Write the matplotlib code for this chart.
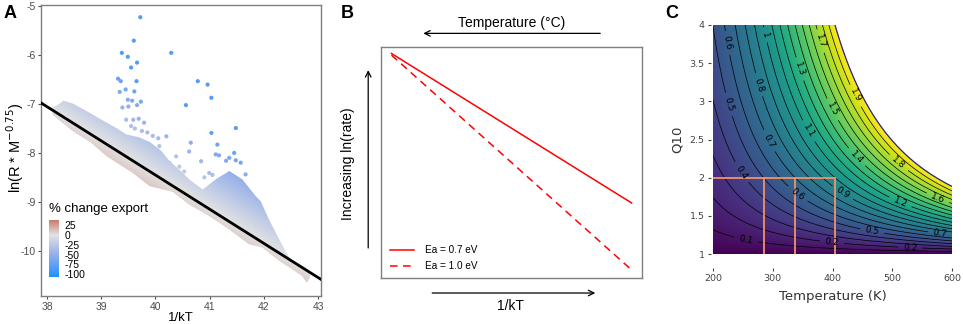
import numpy as np
import matplotlib
matplotlib.use('Agg')
import matplotlib.pyplot as plt
from matplotlib.colors import LinearSegmentedColormap, Normalize
from matplotlib.patches import Polygon

plt.rcParams['axes.unicode_minus'] = False

# ---------- Panel A: values ----------
fit_x = [37.89, 43.05]
fit_y = [-6.975, -10.59]

cloud_top_x = [38.10, 38.21, 38.30, 38.48, 38.79, 39.10, 39.28, 39.46, 39.70, 39.90, 40.10, 40.26,
               40.45, 40.62, 40.87, 41.11, 41.36, 41.60, 41.85, 41.94, 42.09, 42.28, 42.43, 42.49,
               42.60, 42.85]
cloud_top_y = [-7.06, -7.01, -6.93, -6.99, -7.18, -7.38, -7.49, -7.62, -7.68, -7.78, -7.95, -8.17,
               -8.35, -8.54, -8.75, -8.54, -8.37, -8.54, -8.89, -8.99, -9.36, -9.77, -10.08, -10.18,
               -10.25, -10.42]
cloud_bot_x = [38.10, 38.48, 38.80, 39.10, 39.58, 39.89, 40.32, 40.62, 41.00, 41.36, 41.72, 41.97,
               42.28, 42.70, 42.79, 42.85]
cloud_bot_y = [-7.22, -7.56, -7.78, -8.07, -8.41, -8.68, -8.80, -9.06, -9.30, -9.57, -9.87, -9.94,
               -10.21, -10.52, -10.66, -10.55]

pts_x = [39.72, 39.60, 39.38, 39.49, 39.66, 39.55, 40.29, 39.31, 39.36, 39.65, 40.78, 40.96, 41.03,
         40.56, 39.45, 39.34, 39.61, 39.49, 39.57, 39.73, 39.39, 39.50, 39.66, 39.46, 39.59, 39.69,
         39.79, 39.55, 39.62, 39.75, 39.85, 39.95, 40.05, 40.20, 40.07, 40.38, 40.26, 40.44, 40.53,
         40.65, 40.62, 40.84, 41.03, 41.14, 41.11, 41.17, 41.36, 41.48, 41.45, 41.48, 41.57, 41.66,
         41.30, 40.99, 40.90, 41.05]
pts_y = [-5.22, -5.70, -5.95, -6.03, -6.15, -6.25, -5.95, -6.48, -6.53, -6.53, -6.53, -6.60, -6.87,
         -7.02, -6.70, -6.75, -6.74, -6.91, -6.93, -6.95, -7.07, -7.05, -7.02, -7.32, -7.32, -7.30,
         -7.38, -7.45, -7.50, -7.55, -7.58, -7.65, -7.70, -7.66, -7.86, -8.07, -8.20, -8.28, -8.38,
         -7.79, -7.97, -8.17, -7.59, -7.83, -8.03, -8.05, -8.10, -7.49, -8.00, -8.15, -8.20, -8.44,
         -8.16, -8.41, -8.50, -8.45]

cbar_ticks = [25, 0, -25, -50, -75, -100]
cbar_lim = [-107, 38]

# ---------- Panel B ----------
invkT = [0.04, 0.96]
rate_07 = [0.972, 0.325]
rate_10 = [0.965, 0.035]

# ---------- Panel C ----------
k_B = 8.617e-5
temp_range = [200, 600]
q10_range = [1, 4]
ea_levels = np.round(np.arange(0.1, 2.0, 0.1), 1)
mark_T = [285, 338, 405]
mark_q10 = 2
label_T = [221, 287, 376, 340, 274, 435, 223, 399, 291, 357, 438, 510, 246, 338, 417, 514, 575,
           466, 580, 255, 399, 530]
label_Q = [3.76, 3.87, 3.78, 3.41, 3.21, 3.06, 2.95, 2.89, 2.47, 2.60, 2.25, 2.19, 2.06, 1.75,
           1.80, 1.69, 1.71, 1.28, 1.25, 1.17, 1.14, 1.10]

W, H = 963, 324
fig = plt.figure(figsize=(W / 100, H / 100), dpi=100)


def rect(l, t, r, b):
    return [l / W, 1 - b / H, (r - l) / W, (b - t) / H]


arial = 'Liberation Sans'

# ================= Panel A =================
ax = fig.add_axes(rect(41, 5, 321, 296))
cmap_a = LinearSegmentedColormap.from_list(
    'chg', [(0.0, '#1e90ff'), (0.393, '#94aeeb'), (0.738, '#e2e2e2'), (1.0, '#c8796c')])
norm_a = Normalize(*cbar_lim)


def line_at(x):
    return fit_y[0] + (fit_y[1] - fit_y[0]) / (fit_x[1] - fit_x[0]) * (np.asarray(x) - fit_x[0])


def change(x, y):
    d = np.asarray(y) - line_at(x)
    return np.where(d > 0, -48 * d, -32 * d)


gx = np.linspace(37.9, 43.05, 400)
gy = np.linspace(-10.95, -4.95, 400)
GX, GY = np.meshgrid(gx, gy)
val = np.clip(change(GX, GY), *cbar_lim)
im = ax.imshow(val, extent=[gx[0], gx[-1], gy[0], gy[-1]], origin='lower', cmap=cmap_a,
               norm=norm_a, aspect='auto', interpolation='bilinear')
poly = Polygon(list(zip(cloud_top_x, cloud_top_y)) + list(zip(cloud_bot_x[::-1], cloud_bot_y[::-1])),
               closed=True, transform=ax.transData, facecolor='none', edgecolor='none')
ax.add_patch(poly)
im.set_clip_path(poly)

pv = np.clip(change(pts_x, pts_y), -82, 0)
ax.scatter(pts_x, pts_y, c=pv, cmap=cmap_a, norm=norm_a, s=9, linewidths=0, zorder=3)
ax.plot(fit_x, fit_y, color='black', lw=2, zorder=4)

ax.set_xlim(37.89, 43.05)
ax.set_ylim(-10.93, -4.97)
ax.set_xticks([38, 39, 40, 41, 42, 43])
ax.set_yticks([-5, -6, -7, -8, -9, -10])
for s in ax.spines.values():
    s.set_color('#7f7f7f')
    s.set_linewidth(1)
ax.tick_params(colors='#4d4d4d', labelsize=7.5, length=2.5, width=0.8, pad=1.5)
for lab in ax.get_xticklabels() + ax.get_yticklabels():
    lab.set_family(arial)
ax.set_xlabel('1/kT', fontsize=9.5, family=arial, labelpad=0)
fig.text(15 / W, 1 - 148 / H, 'ln(R * M$^{-0.75}$)', fontsize=10.5, family=arial, rotation=90,
         ha='center', va='center')
fig.text(10 / W, 1 - 14 / H, 'A', fontsize=13, fontweight='bold', family=arial, va='center', ha='center')

fig.text(49 / W, 1 - 209 / H, '% change export', fontsize=9.5, family=arial, va='center')
cax = fig.add_axes(rect(49, 220, 59, 277))
cb = matplotlib.colorbar.ColorbarBase(cax, cmap=cmap_a, norm=norm_a, orientation='vertical')
cb.set_ticks(cbar_ticks)
cb.set_ticklabels([str(t) for t in cbar_ticks])
cb.outline.set_visible(False)
cax.tick_params(length=0, labelsize=7.5, pad=4)
for lab in cax.get_yticklabels():
    lab.set_family(arial)

# ================= Panel B =================
bx = fig.add_axes(rect(381, 47, 642, 278))
bx.plot(invkT, rate_07, color='red', lw=1.1, label='Ea = 0.7 eV')
bx.plot(invkT, rate_10, color='red', lw=1.1, ls=(0, (5, 3.5)), label='Ea = 1.0 eV')
bx.set_xlim(0, 1)
bx.set_ylim(0, 1)
bx.set_xticks([])
bx.set_yticks([])
for s in bx.spines.values():
    s.set_color('#7f7f7f')
    s.set_linewidth(1)
bx.legend(loc='lower left', bbox_to_anchor=(0.0, -0.01), frameon=False,
          prop={'family': arial, 'size': 7.2}, handlelength=2.4, handletextpad=1.1,
          labelspacing=0.6)
arrow = dict(arrowstyle='->', color='black', lw=0.9, shrinkA=0, shrinkB=0)
bx.annotate('', xy=(0.162, 1.059), xytext=(0.840, 1.059), xycoords='axes fraction',
            arrowprops=arrow, annotation_clip=False)
bx.text(0.502, 1.102, 'Temperature (°C)', transform=bx.transAxes, ha='center', va='center',
        fontsize=10, family=arial)
bx.annotate('', xy=(-0.049, 0.900), xytext=(-0.049, 0.130), xycoords='axes fraction',
            arrowprops=arrow, annotation_clip=False)
bx.text(-0.125, 0.497, 'Increasing ln(rate)', transform=bx.transAxes, ha='center', va='center',
        rotation=90, fontsize=10, family=arial)
bx.annotate('', xy=(0.821, -0.065), xytext=(0.196, -0.065), xycoords='axes fraction',
            arrowprops=arrow, annotation_clip=False)
bx.text(0.495, -0.121, '1/kT', transform=bx.transAxes, ha='center', va='center',
        fontsize=10, family=arial)
fig.text(347 / W, 1 - 14 / H, 'B', fontsize=13, fontweight='bold', family=arial, va='center', ha='center')

# ================= Panel C =================
cx = fig.add_axes(rect(713, 25, 952, 254))
T = np.linspace(temp_range[0], temp_range[1], 500)
Q = np.linspace(q10_range[0], q10_range[1], 400)
TT, QQ = np.meshgrid(T, Q)
EA = k_B * TT * (TT + 10) * np.log(QQ) / 10
EA_m = np.ma.masked_greater(EA, 2.0)
cx.imshow(EA_m, extent=[T[0], T[-1], Q[0], Q[-1]], origin='lower', cmap='viridis', vmin=0, vmax=2,
          aspect='auto', interpolation='bilinear')
cs = cx.contour(TT, QQ, EA, levels=ea_levels, colors='black', linewidths=0.5)
cx.contour(TT, QQ, EA, levels=[2.0], colors='#2d2a6e', linewidths=0.9)
cx.clabel(cs, manual=list(zip(label_T, label_Q)), inline=True, fontsize=6.5, fmt='%g')

orange = '#f2926a'
cx.plot([temp_range[0], mark_T[-1]], [mark_q10, mark_q10], color=orange, lw=1.3)
for t in mark_T:
    cx.plot([t, t], [q10_range[0], mark_q10], color=orange, lw=1.3)

cx.set_xlim(*temp_range)
cx.set_ylim(*q10_range)
cx.set_xticks([200, 300, 400, 500, 600])
cx.set_yticks([1, 1.5, 2, 2.5, 3, 3.5, 4])
cx.set_yticklabels(['1', '1.5', '2', '2.5', '3', '3.5', '4'])
for name in ['top', 'right']:
    cx.spines[name].set_visible(False)
cx.spines['bottom'].set_position(('outward', 10))
cx.spines['left'].set_position(('outward', 1.5))
cx.spines['bottom'].set_visible(False)
cx.spines['left'].set_visible(False)
cx.tick_params(colors='#444444', labelsize=6.8, length=2.5, width=0.8, pad=2)
cx.set_xlabel('Temperature (K)', fontsize=9.5, color='#333333', labelpad=5)
cx.set_ylabel('Q10', fontsize=9.5, color='#333333', labelpad=4)
fig.text(672 / W, 1 - 14 / H, 'C', fontsize=13, fontweight='bold', family=arial, va='center', ha='center')

fig.savefig('out.png', dpi=100)
